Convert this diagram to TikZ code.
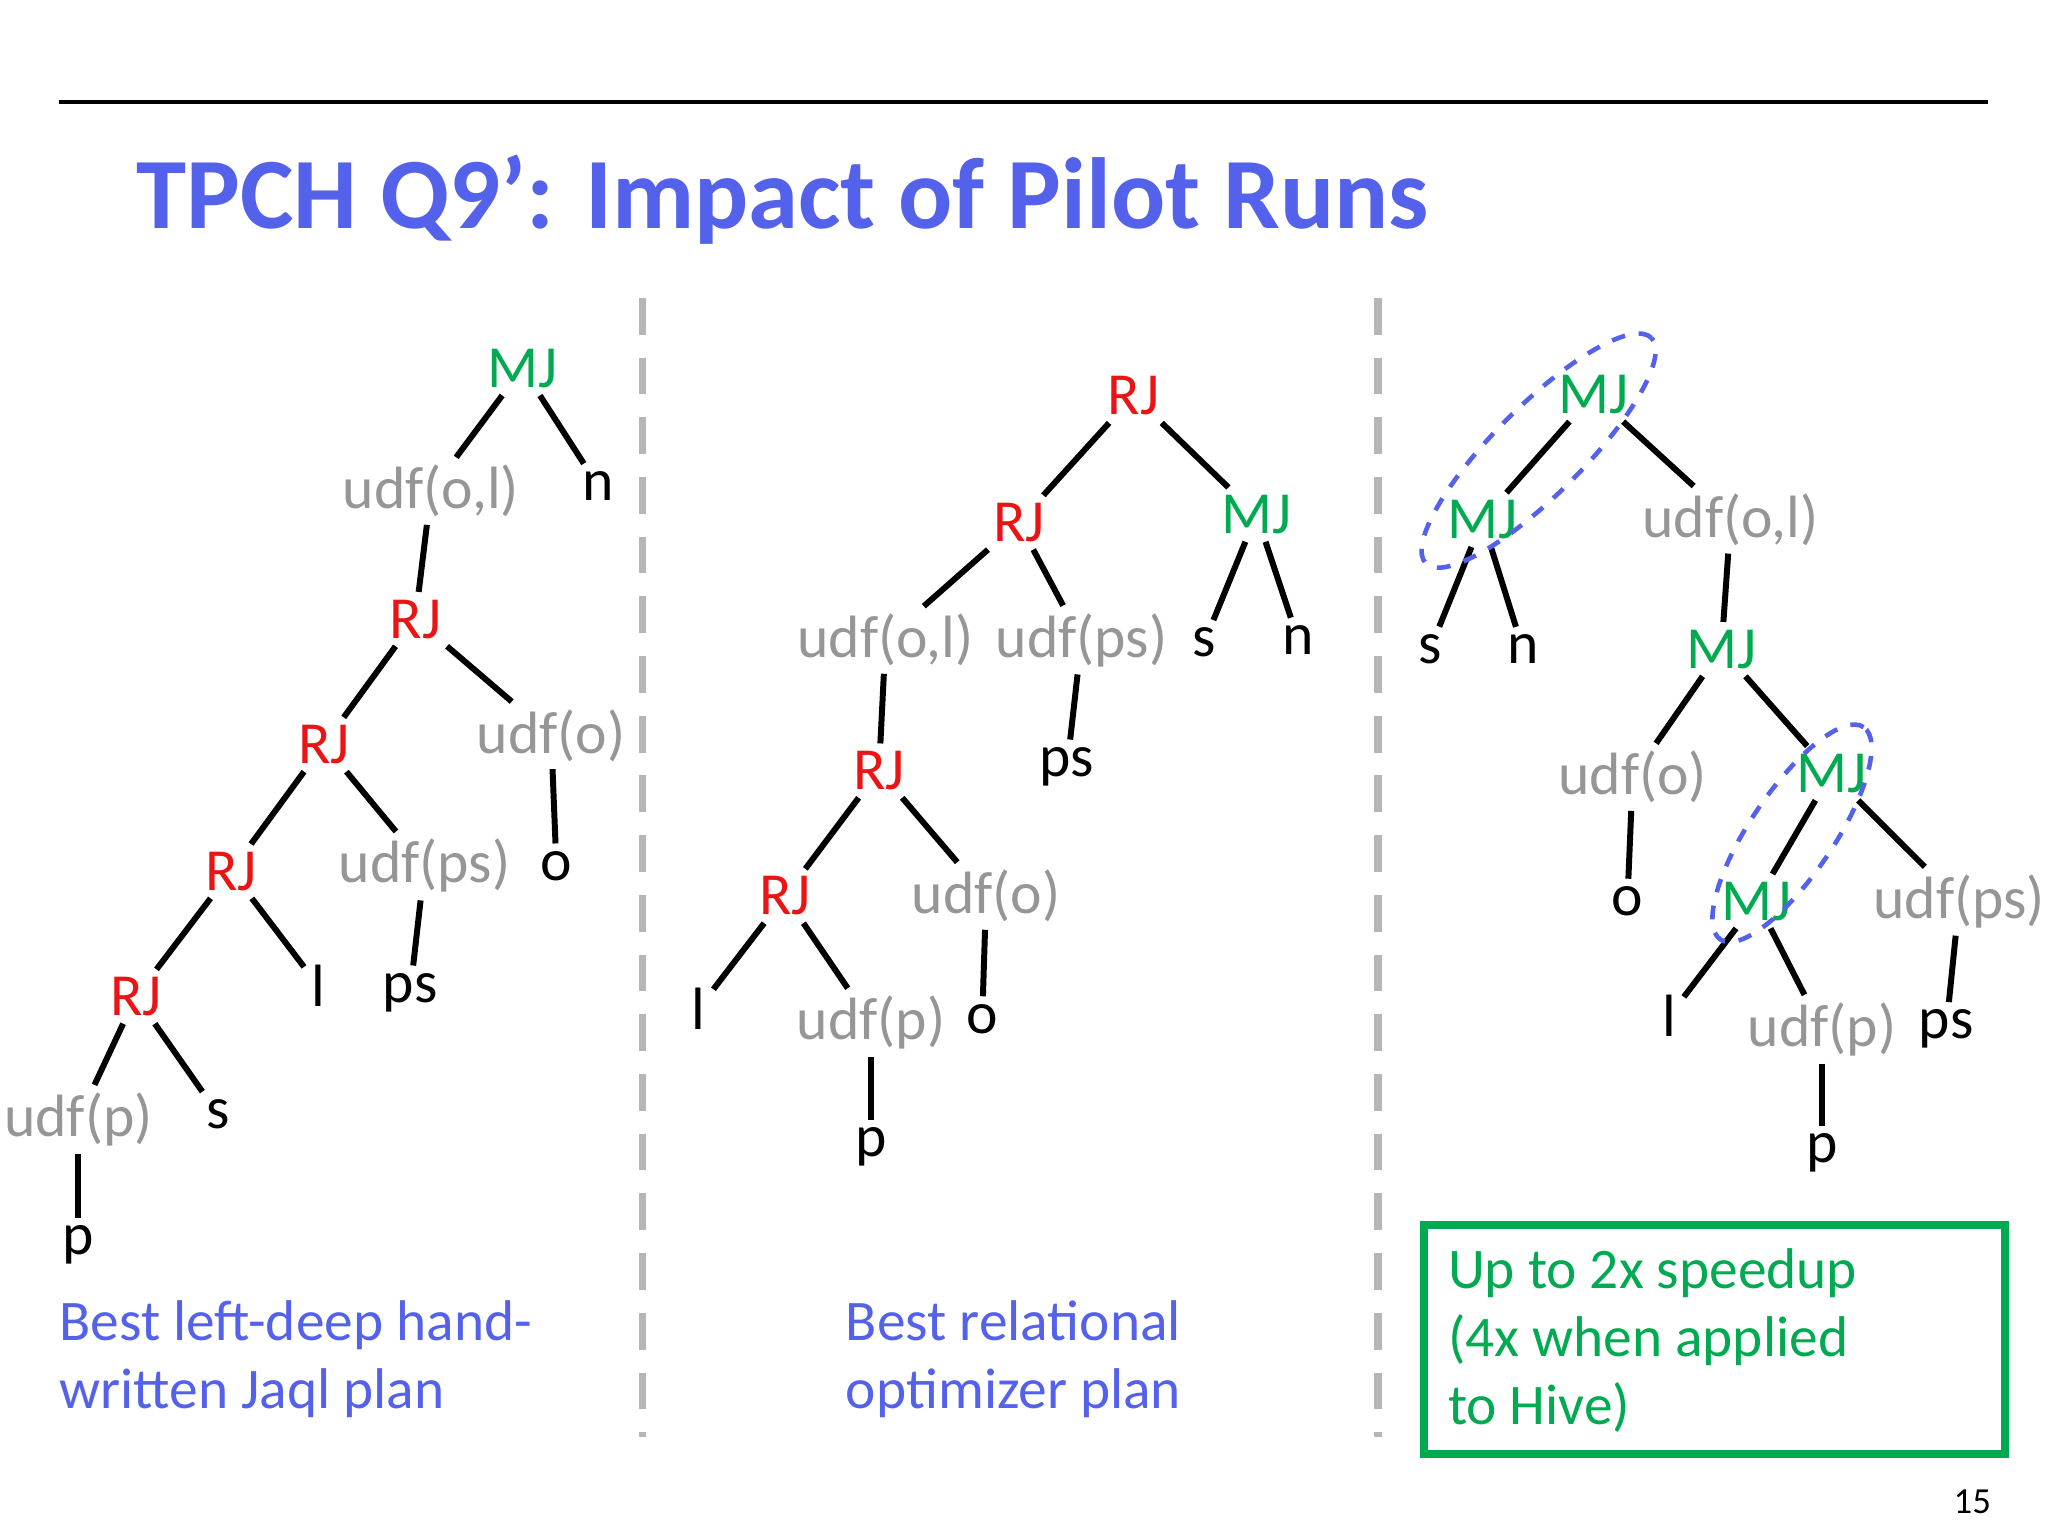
\documentclass[tikz,border=0pt]{standalone}
\usepackage{fontspec}
\setmainfont{Carlito}
\definecolor{tblue}{RGB}{84,98,235}
\definecolor{tgreen}{RGB}{0,170,80}
\definecolor{tred}{RGB}{235,20,20}
\definecolor{tgray}{RGB}{150,150,150}
\begin{document}
\begin{tikzpicture}[x=0.01cm,y=-0.01cm,
  t/.style={font=\fontsize{13pt}{15pt}\selectfont,inner sep=1.5pt},
  g/.style={t,text=tgreen}, r/.style={t,text=tred}, u/.style={t,text=tgray}, k/.style={t,text=black},
  e/.style={line width=1.3pt,shorten >=0pt,shorten <=0pt},
  ov/.style={tblue,dashed,line width=1pt},
  captxt/.style={anchor=north west,align=left,font=\fontsize{12.5pt}{14.8pt}\selectfont,inner sep=0pt}]
\useasboundingbox (0,0) rectangle (1568,1176);
\fill[white] (0,0) rectangle (1568,1176);
\draw[line width=0.8pt] (45,78) -- (1522,78);
\node[anchor=west,text=tblue,font=\fontsize{22pt}{26pt}\selectfont\bfseries] (title) at (92,153) {TPCH Q9’: Impact of Pilot Runs};
\draw[tgray!70,line width=1.6pt,dash pattern=on 8pt off 5pt] (492,228) -- (492,1100);
\draw[tgray!70,line width=1.6pt,dash pattern=on 8pt off 5pt] (1055,228) -- (1055,1100);
% tree 1
\node[g] (a1) at (400,282) {MJ};
\node[u] (a2) at (330,376) {udf(o,l)};
\node[k] (a3) at (458,372) {n};
\node[r] (a4) at (318,474) {RJ};
\node[r] (a5) at (248,570) {RJ};
\node[u] (a6) at (422,563) {udf(o)};
\node[r] (a7) at (177,667) {RJ};
\node[u] (a8) at (325,663) {udf(ps)};
\node[k] (a9) at (426,663) {o};
\node[r] (a10) at (104,763) {RJ};
\node[k] (a11) at (244,755) {l};
\node[k] (a12) at (314,760) {ps};
\node[u] (a13) at (60,857) {udf(p)};
\node[k] (a14) at (167,853) {s};
\node[k] (a15) at (60,953) {p};
\foreach \a/\b in {a1/a2,a1/a3,a2/a4,a4/a5,a4/a6,a5/a7,a5/a8,a6/a9,a7/a10,a7/a11,a8/a12,a10/a13,a10/a14,a13/a15}
  \draw[e] (\a) -- (\b);
% tree 2
\node[r] (b1) at (868,303) {RJ};
\node[r] (b2) at (780,400) {RJ};
\node[g] (b3) at (962,394) {MJ};
\node[u] (b4) at (678,490) {udf(o,l)};
\node[u] (b5) at (828,490) {udf(ps)};
\node[k] (b6) at (922,492) {s};
\node[k] (b7) at (994,490) {n};
\node[r] (b8) at (673,590) {RJ};
\node[k] (b9) at (817,587) {ps};
\node[r] (b10) at (601,686) {RJ};
\node[u] (b11) at (755,686) {udf(o)};
\node[k] (b12) at (535,772) {l};
\node[u] (b13) at (667,783) {udf(p)};
\node[k] (b14) at (752,780) {o};
\node[k] (b15) at (667,878) {p};
\foreach \a/\b in {b1/b2,b1/b3,b2/b4,b2/b5,b3/b6,b3/b7,b4/b8,b5/b9,b8/b10,b8/b11,b10/b12,b10/b13,b11/b14,b13/b15}
  \draw[e] (\a) -- (\b);
% tree 3
\node[g] (c1) at (1220,302) {MJ};
\node[g] (c2) at (1135,398) {MJ};
\node[u] (c3) at (1325,398) {udf(o,l)};
\node[k] (c4) at (1095,497) {s};
\node[k] (c5) at (1166,497) {n};
\node[g] (c6) at (1318,497) {MJ};
\node[u] (c7) at (1250,595) {udf(o)};
\node[g] (c8) at (1402,592) {MJ};
\node[k] (c9) at (1246,690) {o};
\node[g] (c10) at (1345,690) {MJ};
\node[u] (c11) at (1500,690) {udf(ps)};
\node[k] (c12) at (1278,778) {l};
\node[u] (c13) at (1395,788) {udf(p)};
\node[k] (c14) at (1490,788) {ps};
\node[k] (c15) at (1395,883) {p};
\foreach \a/\b in {c1/c2,c1/c3,c2/c4,c2/c5,c3/c6,c6/c7,c6/c8,c7/c9,c8/c10,c8/c11,c10/c12,c10/c13,c11/c14,c13/c15}
  \draw[e] (\a) -- (\b);
\coordinate (o1) at (1178,345);
\coordinate (o2) at (1372,638);
\draw[ov,rotate around={45:(o1)}] (o1) ellipse [x radius=1.22cm,y radius=0.34cm];
\draw[ov,rotate around={56:(o2)}] (o2) ellipse [x radius=0.98cm,y radius=0.32cm];
% captions
\node[captxt,text=tblue] (cap1) at (45,995) {Best left-deep hand-\\written Jaql plan};
\node[captxt,text=tblue] (cap2) at (647,995) {Best relational\\optimizer plan};
\draw[tgreen,line width=1.8pt] (1090,938) rectangle (1535,1113);
\node[captxt,text=tgreen] (cap3) at (1108,955) {Up to 2x speedup\\(4x when applied\\ to Hive)};
\node[font=\fontsize{8pt}{9pt}\selectfont] (pg) at (1510,1150) {15};
\end{tikzpicture}
\end{document}
